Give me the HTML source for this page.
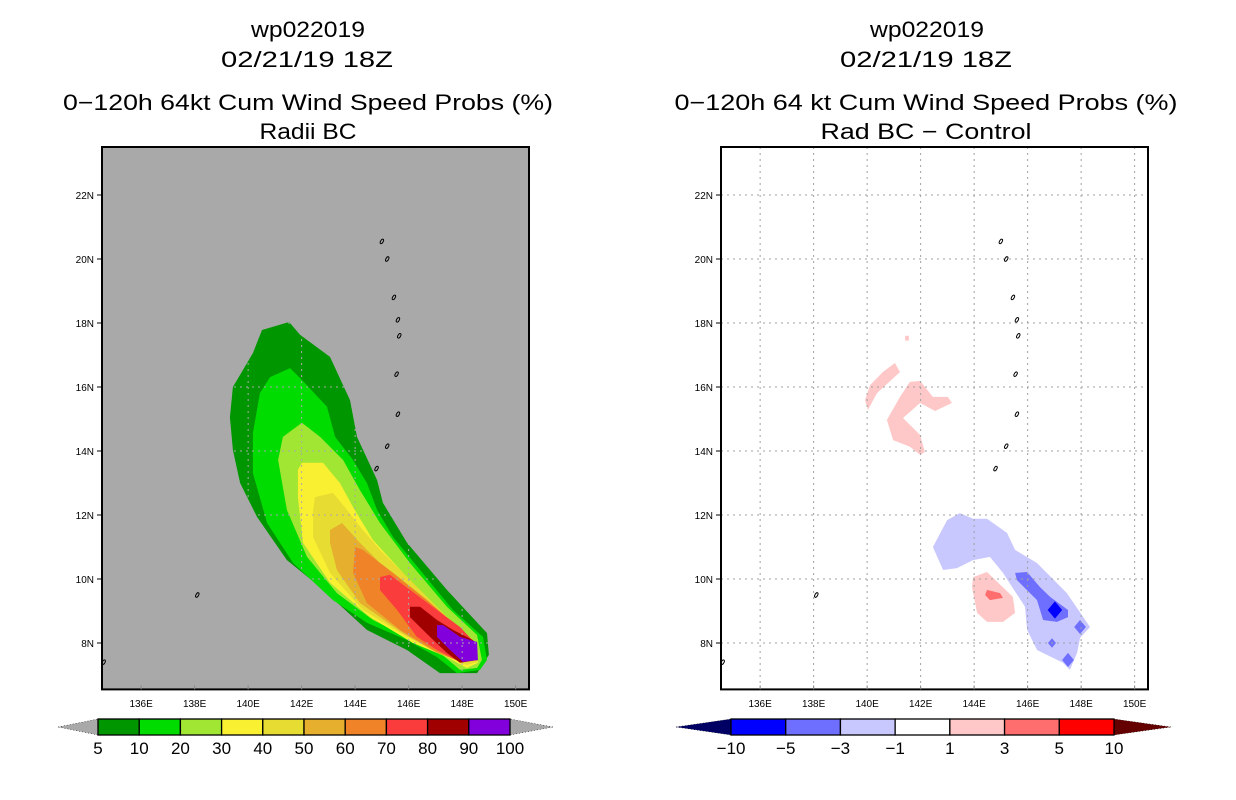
<!DOCTYPE html>
<html><head><meta charset="utf-8"><style>
html,body{margin:0;padding:0;background:#fff;}
svg{display:block;}
text{font-family:"Liberation Sans",sans-serif;fill:#000;}
</style></head><body>
<svg id="root" width="1236" height="800" viewBox="0 0 1236 800" xmlns="http://www.w3.org/2000/svg">
<rect width="1236" height="800" fill="#fff"/>
<g font-size="22">
<text x="308" y="37" text-anchor="middle" textLength="114" lengthAdjust="spacingAndGlyphs">wp022019</text>
<text x="307" y="67" text-anchor="middle" textLength="172" lengthAdjust="spacingAndGlyphs">02/21/19 18Z</text>
<text x="308" y="110" text-anchor="middle" textLength="490" lengthAdjust="spacingAndGlyphs">0−120h 64kt Cum Wind Speed Probs (%)</text>
<text x="308" y="139" text-anchor="middle" textLength="97" lengthAdjust="spacingAndGlyphs">Radii BC</text>
</g>
<g font-size="22">
<text x="927" y="37" text-anchor="middle" textLength="114" lengthAdjust="spacingAndGlyphs">wp022019</text>
<text x="926" y="67" text-anchor="middle" textLength="172" lengthAdjust="spacingAndGlyphs">02/21/19 18Z</text>
<text x="926" y="110" text-anchor="middle" textLength="503" lengthAdjust="spacingAndGlyphs">0−120h 64 kt Cum Wind Speed Probs (%)</text>
<text x="926" y="139" text-anchor="middle" textLength="211" lengthAdjust="spacingAndGlyphs">Rad BC − Control</text>
</g>
<g id="left"></g>
<g id="right"></g>
<g id="cbl"></g>
<g id="cbr"></g>
</svg>
<script>
// ---- data ----
const lonTicks = [136,138,140,142,144,146,148,150];
const latTicks = [8,10,12,14,16,18,20,22];
const probLevels = ["5","10","20","30","40","50","60","70","80","90","100"];
const probColors = ["#009600","#00dc00","#a0e632","#faf032","#e6dc32","#e6af2d","#f08228","#fa3c3c","#a00000","#8200dc"];
const diffLevels = ["−10","−5","−3","−1","1","3","5","10"];
const diffColors = ["#0000ff","#6e6eff","#c8c8ff","#ffffff","#ffc8c8","#ff6e6e","#ff0000"];
// probability contours (lon,lat), outer to inner: 5,10,20,...,90%
const prob5 = [[140.52,17.78],[141.53,18.03],[141.94,17.63],[143.06,16.94],[143.81,15.59],[144.07,14.44],[144.82,13.09],[145.04,12.38],[145.94,11.13],[147.43,9.66],[148.93,8.31],[149.0,7.63],[148.56,7.06],[147.17,7.06],[145.94,7.78],[144.44,8.41],[142.69,9.75],[141.45,10.59],[140.33,11.94],[139.7,13.0],[139.43,14.03],[139.32,15.06],[139.43,16.0],[140.18,17.06]];
const prob10 = [[141.57,16.59],[142.01,16.22],[142.95,15.38],[143.25,14.44],[143.92,13.72],[144.44,13.0],[144.82,12.16],[145.42,11.31],[146.43,10.28],[147.66,9.03],[148.78,8.19],[148.93,7.47],[148.67,7.16],[147.81,7.06],[147.06,7.56],[145.94,8.09],[144.44,8.63],[143.17,9.34],[141.68,10.5],[140.71,11.75],[140.18,13.31],[140.18,14.56],[140.44,15.81],[140.82,16.31]];
const prob20 = [[142.01,14.88],[142.69,14.44],[143.55,13.72],[144.18,12.78],[144.93,11.75],[146.05,10.5],[147.43,9.13],[148.56,8.25],[148.74,7.47],[148.56,7.22],[147.92,7.16],[147.17,7.69],[146.16,8.09],[144.67,8.72],[143.32,9.56],[142.2,10.69],[141.45,12.16],[141.12,13.72],[141.3,14.44]];
const prob30 = [[142.01,13.63],[142.8,13.63],[143.43,13.0],[143.92,12.25],[144.67,11.22],[145.94,10.06],[147.43,8.81],[148.41,8.09],[148.59,7.38],[148.18,7.22],[147.43,7.56],[146.16,8.0],[144.56,8.81],[143.06,9.88],[142.05,11.13],[141.86,12.56],[141.86,13.41]];
const prob40 = [[142.5,12.56],[143.17,12.69],[143.7,12.16],[144.07,11.75],[144.93,10.91],[146.16,9.88],[147.55,8.72],[148.41,8.0],[148.56,7.41],[148.18,7.31],[147.17,7.69],[145.94,8.19],[144.29,9.03],[143.06,10.19],[142.43,11.31],[142.43,12.16]];
const prob50 = [[143.06,11.53],[143.51,11.75],[144.18,11.13],[144.93,10.5],[146.16,9.56],[147.55,8.5],[148.41,7.88],[148.41,7.47],[148.03,7.38],[147.06,7.69],[145.79,8.31],[144.18,9.25],[143.32,10.28],[143.06,11.13]];
const prob60 = [[144.0,11.0],[144.29,10.91],[145.42,10.19],[146.69,9.34],[147.66,8.63],[148.41,7.88],[148.37,7.53],[147.92,7.41],[146.91,7.78],[145.68,8.41],[144.44,9.25],[143.92,10.19]];
const prob70 = [[144.93,10.06],[145.3,10.13],[146.05,9.66],[147.06,9.03],[147.92,8.5],[148.48,8.0],[148.41,7.56],[147.92,7.41],[147.06,7.78],[146.31,8.19],[145.57,9.03],[144.93,9.66]];
const prob80 = [[146.05,9.13],[146.43,9.13],[147.06,8.72],[147.66,8.41],[148.41,8.09],[148.59,7.47],[147.92,7.38],[147.43,7.69],[146.8,8.19],[146.05,8.81]];
const prob90 = [[147.06,8.56],[147.29,8.56],[147.92,8.19],[148.56,8.03],[148.59,7.47],[148.03,7.41],[147.55,7.78],[147.06,8.19]];
// difference contours (lon,lat)
const diffPinkA = [[141.04,16.75],[141.23,16.47],[140.37,15.81],[140.03,15.28],[139.92,15.59],[140.11,16.06],[140.59,16.47]];
const diffPinkB = [[141.6,16.16],[141.98,16.19],[142.46,15.69],[143.02,15.69],[143.17,15.5],[142.54,15.25],[141.98,15.5],[141.34,15.03],[141.98,14.5],[142.16,13.97],[141.98,13.88],[141.6,14.13],[140.97,14.34],[140.74,14.97],[141.23,15.69]];
const diffPinkDot = [[141.42,17.6],[141.56,17.6],[141.56,17.45],[141.42,17.45]];
const diffPinkC = [[143.96,10.06],[144.48,10.22],[145.45,9.44],[145.53,8.94],[145.08,8.66],[144.48,8.66],[144.11,8.94],[143.92,9.75]];
const diffRed = [[144.48,9.66],[144.97,9.56],[145.08,9.41],[144.59,9.34],[144.41,9.5]];
const diffLightBlue = [[143.47,12.06],[143.96,11.88],[144.48,11.88],[145.23,11.44],[145.53,10.91],[146.35,10.5],[147.47,9.56],[148.33,8.5],[147.96,8.16],[147.85,7.69],[147.58,7.16],[147.32,7.38],[146.35,7.78],[145.98,8.41],[145.9,9.13],[145.08,10.19],[144.59,10.69],[143.96,10.59],[143.36,10.34],[142.84,10.28],[142.46,11.0],[142.99,11.84]];
const diffMidBlue = [[145.53,10.19],[145.98,10.22],[146.46,9.75],[146.84,9.44],[147.51,9.03],[147.51,8.81],[147.1,8.66],[146.58,8.72],[146.35,9.34],[145.6,9.97]];
const diffMidBlueSpots = [[147.96,8.5,0.22],[146.91,8.0,0.15],[147.51,7.47,0.22]];
const diffDarkBlue = [[147.02,9.03,0.27]];
// islands (lon,lat)
const islands = [[145.0,20.55],[145.2,20.0],[145.45,18.8],[145.6,18.1],[145.65,17.6],[145.55,16.4],[145.6,15.15],[145.2,14.15],[144.8,13.45],[138.1,9.5],[134.6,7.4]];

// ---- axes ----
const NS='http://www.w3.org/2000/svg';
const LON0=134.5, LAT_TOP=23.5, LAT_BOT=6.55;
function xs(x0){return lon=>x0+(lon-LON0)*26.75;}
function ys(lat){return 643-(lat-8)*32;}
function mk(tag,attrs,parent){const e=document.createElementNS(NS,tag);for(const k in attrs)e.setAttribute(k,attrs[k]);parent.appendChild(e);return e;}
function pts(poly,xf){return poly.map(p=>xf(p[0]).toFixed(1)+','+ys(p[1]).toFixed(1)).join(' ');}

function panel(g,x0,bg){
  const xf=xs(x0), left=x0+1, right=xf(150.5), top=ys(LAT_TOP), bot=ys(LAT_BOT);
  const clipId='clip'+x0;
  const cp=mk('clipPath',{id:clipId},g); mk('rect',{x:left,y:top,width:right-left,height:bot-top},cp);
  const bgr=mk('rect',{x:left,y:top,width:right-left,height:bot-top,fill:bg},g);
  
  
  const inner=mk('g',{'clip-path':'url(#'+clipId+')'},g);
  return {xf,left,right,top,bot,inner};
}
function decorate(g,P,gridColor){
  const grid=mk('g',{stroke:gridColor,'stroke-width':1,'stroke-dasharray':'2,4'},P.inner);
  
  
  lonTicks.forEach(l=>mk('line',{x1:P.xf(l),x2:P.xf(l),y1:P.top,y2:P.bot},grid));
  latTicks.forEach(l=>mk('line',{x1:P.left,x2:P.right,y1:ys(l),y2:ys(l)},grid));
  const isl=mk('g',{fill:'none',stroke:'#000','stroke-width':1},P.inner);
  
  
  islands.forEach(p=>mk('ellipse',{cx:P.xf(p[0]),cy:ys(p[1]),rx:1.3,ry:2.5,transform:`rotate(30 ${P.xf(p[0])} ${ys(p[1])})`},isl));
  const fr=mk('rect',{x:P.left,y:P.top,width:P.right-P.left,height:P.bot-P.top,fill:'none',stroke:'#000','stroke-width':2},g);
  
  
  const ax=mk('g',{'font-size':10},g);
  
  
  lonTicks.forEach(l=>{
    const t=mk('text',{x:P.xf(l),y:707,'text-anchor':'middle'},ax); t.textContent=l+'E';
    
    
    mk('line',{x1:P.xf(l),x2:P.xf(l),y1:P.bot,y2:P.bot-4,stroke:'#888'},ax);
  });
  latTicks.forEach(l=>{
    const t=mk('text',{x:P.left-8,y:ys(l)+4,'text-anchor':'end'},ax); t.textContent=l+'N';
    
    
    mk('line',{x1:P.left-5,x2:P.left,y1:ys(l),y2:ys(l),stroke:'#000'},ax);
  });
}

// left panel
const L=panel(document.getElementById('left'),101,'#a9a9a9');
[prob5,prob10,prob20,prob30,prob40,prob50,prob60,prob70,prob80,prob90].forEach((poly,i)=>{
  const p=mk('polygon',{points:pts(poly,L.xf),fill:probColors[i]},L.inner);
  
  
});
decorate(document.getElementById('left'),L,'#a9a9a9');

// right panel
const R=panel(document.getElementById('right'),720,'#ffffff');
const diffPolys=[[diffPinkA,4],[diffPinkB,4],[diffPinkDot,4],[diffPinkC,4],[diffRed,5],[diffLightBlue,2],[diffMidBlue,1]];
diffPolys.forEach(([poly,ci])=>{
  const p=mk('polygon',{points:pts(poly,R.xf),fill:diffColors[ci]},R.inner);
  
  
});
function diamonds(arr,ci){arr.forEach(d=>{
  const cx=R.xf(d[0]),cy=ys(d[1]),rx=d[2]*26.75,ry=d[2]*32;
  const p=mk('polygon',{points:`${cx},${cy-ry} ${cx+rx},${cy} ${cx},${cy+ry} ${cx-rx},${cy}`,fill:diffColors[ci]},R.inner);
  
  
});}
diamonds(diffMidBlueSpots,1); diamonds(diffDarkBlue,0);
decorate(document.getElementById('right'),R,'#a0a0a0');

// colorbars
function colorbar(g,x0,x1,colors,labels,lt,rt,triL,triR){
  const y0=719,h=16,w=(x1-x0)/colors.length;
  const tl=mk('polygon',{points:`${triL},727 ${x0},${y0} ${x0},${y0+h}`,fill:lt,stroke:'#000','stroke-dasharray':'1,2','stroke-width':0.5},g);
  
  
  const tr=mk('polygon',{points:`${triR},727 ${x1},${y0} ${x1},${y0+h}`,fill:rt,stroke:'#000','stroke-dasharray':'1,2','stroke-width':0.5},g);
  
  
  colors.forEach((c,i)=>{
    const r=mk('rect',{x:x0+i*w,y:y0,width:w,height:h,fill:c,stroke:'#000','stroke-width':1.3},g);
    
    
  });
  labels.forEach((s,i)=>{
    const t=mk('text',{x:x0+i*w,y:754,'text-anchor':'middle','font-size':17},g); t.textContent=s;
    
    
  });
}
colorbar(document.getElementById('cbl'),98,510,probColors,probLevels,'#a9a9a9','#a9a9a9',58,553);
colorbar(document.getElementById('cbr'),731,1114,diffColors,diffLevels,'#000064','#640000',676,1171);
</script>
</body></html>
